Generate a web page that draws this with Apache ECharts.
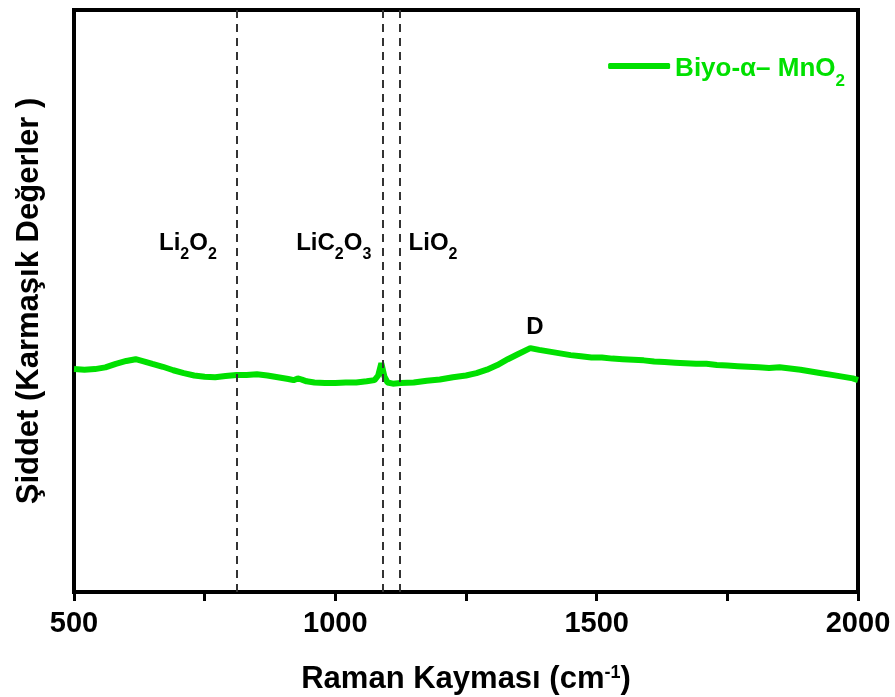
<!DOCTYPE html>
<html><head><meta charset="utf-8">
<script src="https://cdn.jsdelivr.net/npm/echarts@6/dist/echarts.min.js"></script>
<style>html,body{margin:0;padding:0;background:#fff}#c{width:895px;height:697px}</style>
</head><body><div id="c"></div>
<script>
// Raman shift (cm-1)
const ramanShift = [500,520,540,560,580,600,618,635,650,670,690,710,730,750,770,790,811,830,850,870,890,910,920,928,936,945,960,980,1000,1020,1040,1060,1075,1082,1088,1094,1100,1110,1125,1150,1175,1200,1225,1250,1270,1290,1310,1330,1350,1373,1390,1410,1430,1450,1470,1490,1510,1530,1550,1570,1590,1610,1630,1650,1670,1690,1710,1730,1750,1770,1790,1810,1830,1850,1870,1890,1910,1930,1950,1970,1990,2000];
// Intensity (arbitrary units)
const intensity = [38.3,38.2,38.3,38.6,39.2,39.7,40.0,39.6,39.2,38.7,38.1,37.6,37.2,37.0,36.9,37.1,37.3,37.3,37.4,37.2,36.9,36.6,36.4,36.7,36.5,36.2,36.0,35.9,35.9,36.0,36.0,36.2,36.4,37.2,39.3,37.0,36.0,35.8,35.9,36.0,36.3,36.5,36.9,37.2,37.6,38.2,39.0,40.0,40.9,41.9,41.6,41.3,41.0,40.7,40.5,40.3,40.3,40.1,40.0,39.9,39.8,39.6,39.5,39.4,39.3,39.2,39.2,39.0,38.9,38.8,38.7,38.6,38.5,38.6,38.4,38.2,37.9,37.6,37.3,37.0,36.7,36.4];
// Reference lines
const refLines = [811, 1091, 1124];
// Annotations
const annotX = [718, 997, 1187, 1382];
const annotY = [60.5, 60.5, 60.5, 45.9];
const annotText = ['{a|Li}{s|2}{a|O}{s|2}', '{a|LiC}{s|2}{a|O}{s|3}', '{a|LiO}{s|2}', '{a|D}'];
const xTickInterval = 250;
const xLabelStep = 500;
const seriesName = 'Biyo-α– MnO2';

const chart = echarts.init(document.getElementById('c'));
const FONT = 'Liberation Sans, Arial, sans-serif';
const GREEN = '#00e000';
const rich = {
  a: {fontFamily: FONT, fontWeight: 'bold', fontSize: 24, color: '#000', lineHeight: 30, verticalAlign: 'bottom'},
  s: {fontFamily: FONT, fontWeight: 'bold', fontSize: 16, color: '#000', lineHeight: 22, verticalAlign: 'bottom', padding: [0,0,-8,0]}
};
chart.setOption({
  animation: false,
  grid: {left: 74, right: 37, top: 10, bottom: 105, show: true, borderColor: '#000', borderWidth: 4,
         backgroundColor: 'transparent', containLabel: false, outerBoundsMode: 'none'},
  legend: {
    data: [seriesName],
    right: 45, top: 51, itemWidth: 62, itemHeight: 6, icon: 'roundRect', itemGap: 6,
    formatter: () => '{a|Biyo-α– MnO}{s|2}',
    textStyle: {rich: {
      a: {fontFamily: FONT, fontWeight: 'bold', fontSize: 26, color: GREEN, lineHeight: 32, verticalAlign: 'bottom'},
      s: {fontFamily: FONT, fontWeight: 'bold', fontSize: 17, color: GREEN, lineHeight: 22, verticalAlign: 'bottom', padding: [0,0,-8,0]}
    }}
  },
  xAxis: {
    type: 'value', min: 500, max: 2000, interval: xTickInterval,
    name: 'Raman Kayması (cm{sup|-1})', nameLocation: 'middle', nameGap: 72,
    nameTextStyle: {fontFamily: FONT, fontWeight: 'bold', fontSize: 31, color: '#000',
      rich: {sup: {fontFamily: FONT, fontWeight: 'bold', fontSize: 18, color: '#000', verticalAlign: 'top', padding: [0,0,12,0]}}},
    axisLine: {lineStyle: {color: '#000', width: 4}},
    axisTick: {inside: false, length: 9, lineStyle: {color: '#000', width: 3}},
    splitLine: {show: false},
    axisLabel: {fontFamily: FONT, fontWeight: 'bold', fontSize: 29, color: '#000', margin: 17,
      formatter: v => (v % xLabelStep === 0 ? String(v) : '')}
  },
  yAxis: {
    type: 'value', min: 0, max: 100,
    name: 'Şiddet (Karmaşık Değerler )', nameLocation: 'middle', nameGap: 29, nameRotate: 90,
    nameTextStyle: {fontFamily: FONT, fontWeight: 'bold', fontSize: 31, color: '#000'},
    axisLine: {show: true, lineStyle: {color: '#000', width: 4}},
    axisTick: {show: false}, axisLabel: {show: false}, splitLine: {show: false}
  },
  series: [
    {
      name: seriesName, type: 'line', showSymbol: false, symbol: 'none',
      data: ramanShift.map((x, i) => [x, intensity[i]]),
      lineStyle: {color: GREEN, width: 6}, itemStyle: {color: GREEN},
      markLine: {
        silent: true, symbol: 'none', label: {show: false},
        lineStyle: {color: '#333', type: [8, 6], width: 2},
        data: refLines.map(v => ({xAxis: v}))
      }
    },
    {
      name: 'annot', type: 'scatter', symbolSize: 0, silent: true,
      itemStyle: {opacity: 1},
      data: annotX.map((x, i) => ({value: [x, annotY[i]], label: {formatter: annotText[i]}})),
      label: {show: true, position: 'inside', color: '#000', rich: rich}
    }
  ]
});
</script></body></html>
